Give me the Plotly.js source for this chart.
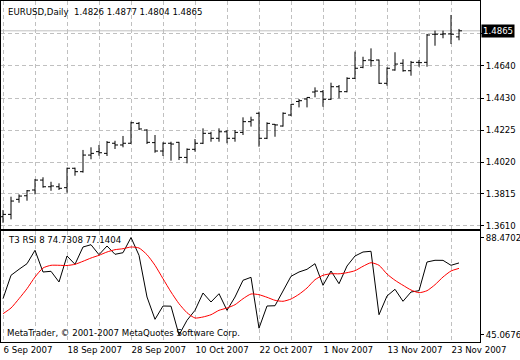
<!DOCTYPE html>
<html>
<head>
<meta charset="utf-8">
<script src="https://cdn.plot.ly/plotly-3.0.1.min.js"></script>
<style>html,body{margin:0;padding:0;background:#fff;}#chart{width:520px;height:360px;}</style>
</head>
<body>
<div id="chart"></div>
<script>
const symbol = 'EURUSD';
const timeframe = 'Daily';
const dates = ['2007-09-06','2007-09-07','2007-09-10','2007-09-11','2007-09-12','2007-09-13','2007-09-14','2007-09-17',
'2007-09-18','2007-09-19','2007-09-20','2007-09-21','2007-09-24','2007-09-25','2007-09-26','2007-09-27',
'2007-09-28','2007-10-01','2007-10-02','2007-10-03','2007-10-04','2007-10-05','2007-10-08','2007-10-09',
'2007-10-10','2007-10-11','2007-10-12','2007-10-15','2007-10-16','2007-10-17','2007-10-18','2007-10-19',
'2007-10-22','2007-10-23','2007-10-24','2007-10-25','2007-10-26','2007-10-29','2007-10-30','2007-10-31',
'2007-11-01','2007-11-02','2007-11-05','2007-11-06','2007-11-07','2007-11-08','2007-11-09','2007-11-12',
'2007-11-13','2007-11-14','2007-11-15','2007-11-16','2007-11-19','2007-11-20','2007-11-21','2007-11-22',
'2007-11-23','2007-11-26'];
const open = [1.3668,1.3683,1.3780,1.3803,1.3840,1.3904,1.3861,1.3861,1.3855,1.3980,1.3958,1.4065,1.4087,1.4076,1.4141,1.4130,
1.4141,1.4269,1.4226,1.4145,1.4091,1.4141,1.4147,1.4050,1.4102,1.4141,1.4205,1.4173,1.4215,1.4173,1.4211,1.4280,
1.4334,1.4173,1.4263,1.4252,1.4323,1.4410,1.4426,1.4471,1.4473,1.4424,1.4505,1.4473,1.4559,1.4630,1.4677,1.4677,
1.4527,1.4613,1.4656,1.4608,1.4662,1.4662,1.4843,1.4843,1.4845,1.4826];
const high = [1.3711,1.3797,1.3812,1.3840,1.3911,1.3922,1.3893,1.3883,1.3984,1.3984,1.4098,1.4115,1.4130,1.4155,1.4157,1.4188,
1.4280,1.4278,1.4231,1.4194,1.4147,1.4151,1.4150,1.4108,1.4168,1.4237,1.4215,1.4237,1.4226,1.4226,1.4308,1.4312,
1.4344,1.4276,1.4265,1.4340,1.4394,1.4426,1.4437,1.4501,1.4484,1.4531,1.4516,1.4566,1.4731,1.4698,1.4752,1.4680,
1.4630,1.4727,1.4682,1.4671,1.4677,1.4845,1.4866,1.4866,1.4967,1.4877];
const low = [1.3629,1.3651,1.3758,1.3771,1.3812,1.3855,1.3835,1.3840,1.3823,1.3932,1.3952,1.4038,1.4061,1.4059,1.4104,1.4115,
1.4138,1.4226,1.4136,1.4080,1.4059,1.4029,1.4033,1.4012,1.4087,1.4136,1.4151,1.4151,1.4141,1.4151,1.4194,1.4248,
1.4119,1.4168,1.4183,1.4248,1.4316,1.4372,1.4372,1.4437,1.4376,1.4420,1.4430,1.4469,1.4555,1.4624,1.4634,1.4523,
1.4512,1.4608,1.4602,1.4576,1.4634,1.4634,1.4769,1.4817,1.4780,1.4804];
const close = [1.3683,1.3769,1.3801,1.3835,1.3904,1.3861,1.3866,1.3851,1.3980,1.3958,1.4065,1.4076,1.4080,1.4147,1.4130,1.4141,
1.4273,1.4233,1.4147,1.4091,1.4141,1.4136,1.4050,1.4102,1.4141,1.4205,1.4173,1.4215,1.4173,1.4211,1.4280,1.4291,
1.4173,1.4269,1.4259,1.4334,1.4392,1.4415,1.4436,1.4477,1.4424,1.4505,1.4473,1.4559,1.4624,1.4673,1.4673,1.4527,
1.4624,1.4651,1.4608,1.4662,1.4660,1.4838,1.4843,1.4845,1.4843,1.4865];
const rsi = [61.22,71.64,74.31,76.81,82.77,73.11,73.42,68.66,80.23,76.54,84.24,85.26,80.81,84.69,80.99,81.70,
88.4702,80.55,61.98,52.05,57.97,57.90,45.0676,51.61,56.06,63.76,59.75,63.45,56.06,61.98,69.42,70.75,
48.10,57.97,58.10,64.96,71.20,73.11,74.31,76.81,67.19,73.56,67.90,75.78,80.23,82.01,82.33,54.10,
62.43,65.41,60.07,64.21,64.79,77.56,78.32,78.30,76.09,77.1404];
const signal = [54.55,57.08,61.22,65.68,70.88,74.89,76.09,76.10,76.00,76.54,77.87,79.34,80.55,82.01,83.04,83.48,
84.24,83.80,80.81,76.09,70.13,64.21,59.00,54.99,52.63,53.08,54.10,56.06,57.08,58.55,61.22,63.32,
63.00,61.85,60.51,60.07,61.09,63.18,65.99,69.68,71.64,72.35,72.30,72.80,73.69,75.65,77.25,76.09,
72.22,69.42,67.19,65.10,63.89,64.79,67.46,70.88,73.56,74.7308];
const priceTicks = [1.3610,1.3815,1.4020,1.4225,1.4430,1.4640,1.4850];
const priceTickLabels = ['1.3610','1.3815','1.4020','1.4225','1.4430','1.4640',''];
const xTickLabels = ['6 Sep 2007','','18 Sep 2007','','28 Sep 2007','','10 Oct 2007','','22 Oct 2007','',
'1 Nov 2007','','13 Nov 2007','','23 Nov 2007'];
const indicatorName = 'T3 RSI 8';
const copyright = 'MetaTrader, \u00a9 2001-2007 MetaQuotes Software Corp.';

const n = dates.length - 1;
const gridVals = dates.filter((d, i) => i % 4 === 0);
const rsiMax = Math.max(...rsi), rsiMin = Math.min(...rsi);
const FONT = 'DejaVu Sans';
const grid = {showgrid:true, gridcolor:'#c0c0c0', griddash:'4px,3px', gridwidth:1};
const border = {showline:true, mirror:true, linecolor:'#000', linewidth:1, zeroline:false, fixedrange:true};

const traces = [
  {type:'ohlc', x:dates, open:open, high:high, low:low, close:close, xaxis:'x', yaxis:'y',
   increasing:{line:{color:'#000', width:1}}, decreasing:{line:{color:'#000', width:1}},
   tickwidth:0.375, hoverinfo:'skip', showlegend:false},
  {type:'scatter', mode:'lines', x:dates, y:rsi, xaxis:'x2', yaxis:'y2',
   line:{color:'#000', width:1}, hoverinfo:'skip', showlegend:false},
  {type:'scatter', mode:'lines', x:dates, y:signal, xaxis:'x2', yaxis:'y2',
   line:{color:'#ff0000', width:1, shape:'spline', smoothing:0.6}, hoverinfo:'skip', showlegend:false}
];

const layout = {
  width:520, height:360,
  margin:{l:1, r:40, t:1, b:18, pad:0},
  paper_bgcolor:'#ffffff', plot_bgcolor:'#ffffff',
  showlegend:false,
  font:{family:FONT, size:8.6, color:'#000'},
  xaxis:Object.assign({type:'category', anchor:'y', range:[-0.25, 59.625],
    tickmode:'array', tickvals:gridVals, ticktext:gridVals.map(() => ''), showticklabels:false, ticks:'',
    rangeslider:{visible:false}}, grid, border),
  xaxis2:Object.assign({type:'category', anchor:'y2', range:[-0.25, 59.625],
    tickmode:'array', tickvals:gridVals, ticktext:xTickLabels, ticks:'',
    ticklabelposition:'outside right', tickfont:{family:FONT, size:8.6, color:'#000'}}, grid, border),
  yaxis:Object.assign({domain:[0.3314, 1], side:'right', range:[1.3589, 1.5057],
    tickmode:'array', tickvals:priceTicks, ticktext:priceTickLabels,
    ticks:'outside', ticklen:3, tickcolor:'#000', tickfont:{family:FONT, size:8.6, color:'#000'}}, grid, border),
  yaxis2:Object.assign({domain:[0, 0.3255], side:'right', range:[41.95, 91.36],
    tickmode:'array', tickvals:[rsiMax, rsiMin], ticktext:[rsiMax.toFixed(4), rsiMin.toFixed(4)],
    ticks:'outside', ticklen:3, tickcolor:'#000', showgrid:false,
    tickfont:{family:FONT, size:8.6, color:'#000'}}, border),
  shapes:[
    {type:'line', xref:'paper', x0:0, x1:1, yref:'y', y0:close[n], y1:close[n],
     line:{color:'#c0c0c0', width:1}, layer:'below'}
  ],
  annotations:[
    {xref:'paper', yref:'paper', x:0.011, y:0.9686, xanchor:'left', yanchor:'middle', showarrow:false,
     text:symbol + ',' + timeframe + '\u00a0\u00a0' + [open[n], high[n], low[n], close[n]].map(v => v.toFixed(4)).join(' '),
     font:{family:FONT, size:8.6, color:'#000'}},
    {xref:'paper', yref:'paper', x:0.011, y:0.2977, xanchor:'left', yanchor:'middle', showarrow:false,
     text:indicatorName + ' ' + signal[n].toFixed(4) + ' ' + rsi[n].toFixed(4),
     font:{family:FONT, size:8.6, color:'#000'}},
    {xref:'paper', yref:'paper', x:0.009, y:0.0264, xanchor:'left', yanchor:'middle', showarrow:false,
     text:copyright, font:{family:FONT, size:8.6, color:'#000'}},
    {xref:'paper', yref:'y', x:1, y:close[n], xanchor:'left', yanchor:'middle', xshift:1, showarrow:false,
     text:close[n].toFixed(4), bgcolor:'#000', borderpad:1,
     font:{family:FONT, size:8.6, color:'#fff'}}
  ]
};

Plotly.newPlot('chart', traces, layout, {displayModeBar:false, staticPlot:true});
</script>
</body>
</html>
